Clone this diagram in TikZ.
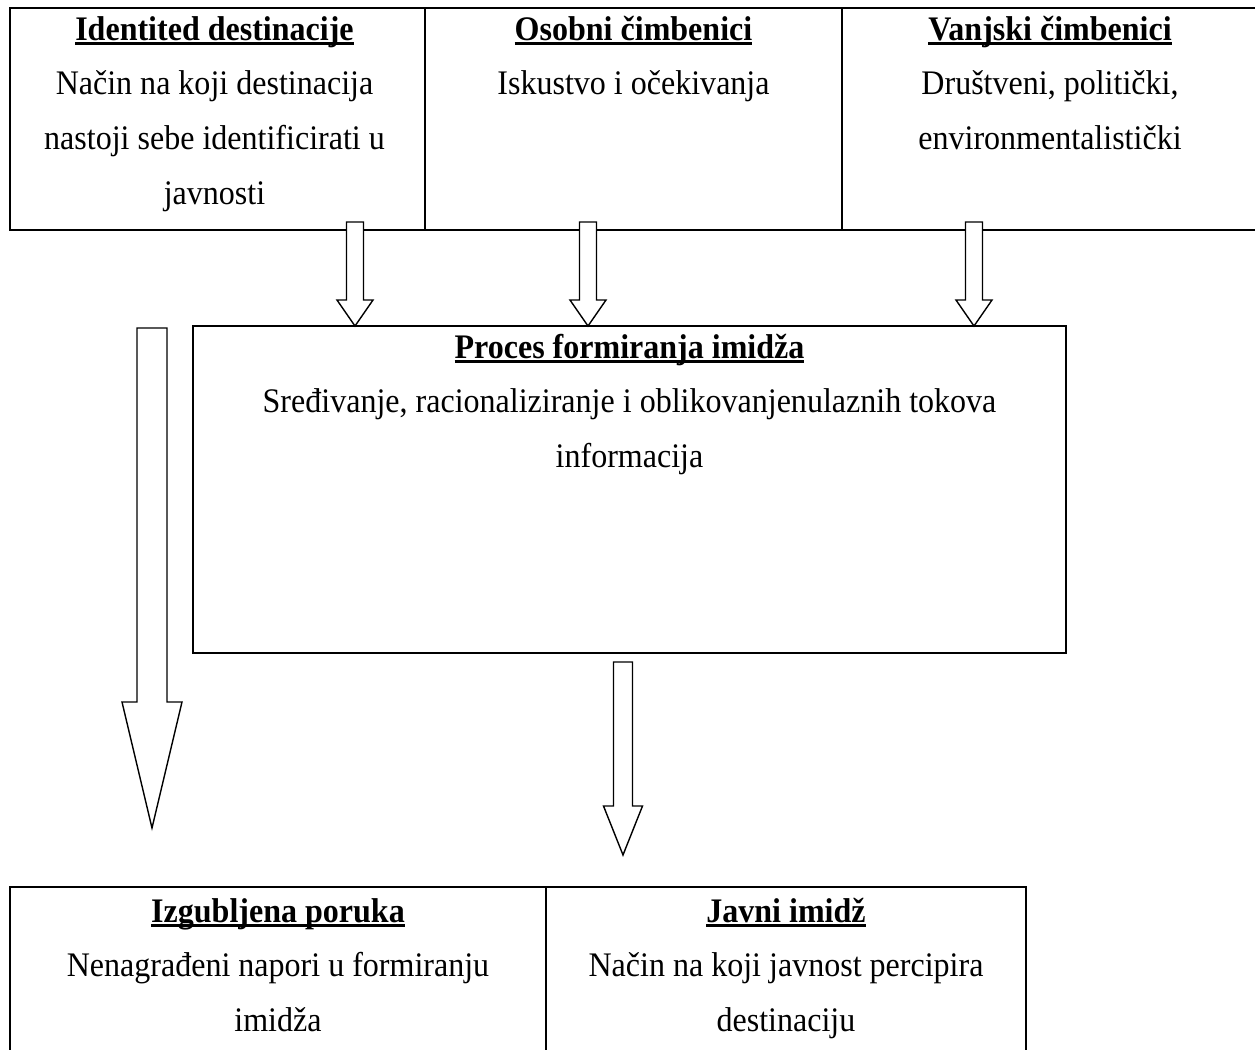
\documentclass[tikz,border=0pt]{standalone}
\usepackage{fontspec}
\setmainfont{Liberation Serif}[FakeStretch=0.93]
\usetikzlibrary{calc,positioning}

\newcommand{\uhead}[1]{\setbox0\hbox{\bfseries #1}\rlap{\vrule height -1.2pt depth 2.7pt width \wd0}\box0}
\newcommand{\hollowarrow}[5]{%
  \draw[hollow] ($(#1)+(-#3,0)$) -- ($(#2)+(-#3,-#5)$) -- ($(#2)+(-#4,-#5)$) -- (#2)
    -- ($(#2)+(#4,-#5)$) -- ($(#2)+(#3,-#5)$) -- ($(#1)+(#3,0)$) -- cycle;}

\tikzset{
  cell/.style={draw, rectangle, line width=1.4pt, inner sep=0pt, outer sep=0pt},
  celltext/.style={anchor=base, align=flush center, font=\fontsize{19.6}{31.2}\selectfont},
  hollow/.style={draw, fill=white, line width=0.8pt, line join=miter}
}

\begin{document}
\begin{tikzpicture}[x=0.02cm, y=-0.02cm]
  \useasboundingbox (0,0) rectangle (1255,1050);
  % table on top
  \node[cell, minimum width=8.3cm, minimum height=4.44cm] (ident) at (217.5,119) {};
  \node[cell, minimum width=8.34cm, minimum height=4.44cm] (osobni) at (633.5,119) {};
  \node[cell, minimum width=8.32cm, minimum height=4.44cm] (vanjski) at (1050,119) {};
  % process box
  \node[cell, minimum width=17.46cm, minimum height=6.54cm] (proces) at (629.5,489.5) {};
  % table at the bottom
  \node[cell, minimum width=10.72cm, minimum height=3.6cm] (izgub) at (278,977) {};
  \node[cell, minimum width=9.6cm, minimum height=3.6cm] (javni) at (786,977) {};

  % arrows
  \coordinate (a1) at (355,222);
  \coordinate (a2) at (588,222);
  \coordinate (a3) at (974,222);
  \coordinate (t1) at (a1 |- proces.north);
  \coordinate (t2) at (a2 |- proces.north);
  \coordinate (t3) at (a3 |- proces.north);
  \hollowarrow{a1}{t1}{8.5}{18}{26}
  \hollowarrow{a2}{t2}{8.5}{18}{26}
  \hollowarrow{a3}{t3}{8.5}{18}{26}
  \coordinate (l1) at (152,328);
  \coordinate (l2) at (152,828);
  \hollowarrow{l1}{l2}{15}{30}{126}
  \coordinate (m1) at (623,662);
  \coordinate (m2) at (623,855);
  \hollowarrow{m1}{m2}{9.5}{19.5}{49}

  % texts
  \node[celltext, text width=8cm] (identtxt) at ($(ident.north)+(-3,32)$)
    {\uhead{Identited destinacije}\\ Način na koji destinacija\\ nastoji sebe identificirati u\\ javnosti};
  \node[celltext, text width=8cm] (osobnitxt) at ($(osobni.north)+(0,32)$)
    {\uhead{Osobni čimbenici}\\ Iskustvo i očekivanja};
  \node[celltext, text width=8cm] (vanjskitxt) at ($(vanjski.north)+(0,32)$)
    {\uhead{Vanjski čimbenici}\\ Društveni, politički,\\ environmentalistički};
  \node[celltext, text width=17cm] (procestxt) at ($(proces.north)+(0,32)$)
    {\uhead{Proces formiranja imidža}\\ Sređivanje, racionaliziranje i oblikovanjenulaznih tokova\\ informacija};
  \node[celltext, text width=10.4cm] (izgubtxt) at ($(izgub.north)+(0,35)$)
    {\uhead{Izgubljena poruka}\\ Nenagrađeni napori u formiranju\\ imidža};
  \node[celltext, text width=9.3cm] (javnitxt) at ($(javni.north)+(0,35)$)
    {\uhead{Javni imidž}\\ Način na koji javnost percipira\\ destinaciju};
\end{tikzpicture}
\end{document}
